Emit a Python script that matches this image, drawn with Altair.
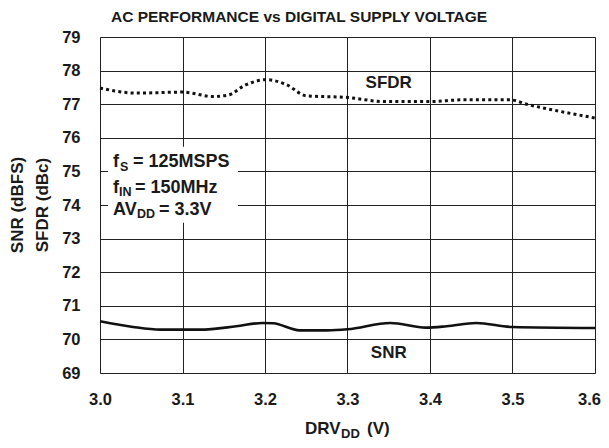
import altair as alt
import pandas as pd

# ---- data ----
sfdr_v = [3.0, 3.045, 3.1, 3.137, 3.155, 3.177, 3.202, 3.226, 3.25, 3.3, 3.344, 3.4, 3.44, 3.497, 3.517, 3.557, 3.6]
sfdr = [77.48, 77.33, 77.36, 77.23, 77.27, 77.58, 77.73, 77.58, 77.25, 77.2, 77.08, 77.08, 77.13, 77.13, 77.0, 76.79, 76.59]

snr_v = [3.0, 3.04, 3.073, 3.121, 3.165, 3.197, 3.21, 3.242, 3.275, 3.3, 3.352, 3.395, 3.42, 3.456, 3.5, 3.6]
snr = [70.54, 70.37, 70.29, 70.29, 70.39, 70.49, 70.48, 70.27, 70.27, 70.3, 70.49, 70.35, 70.39, 70.49, 70.37, 70.34]

x_ticks = [3.0, 3.1, 3.2, 3.3, 3.4, 3.5, 3.6]
y_ticks = [69, 70, 71, 72, 73, 74, 75, 76, 77, 78, 79]

FONT = "Liberation Sans"
W, H = 495, 336
INK = "#1a1a1a"

df_sfdr = pd.DataFrame({"v": sfdr_v, "db": sfdr})
df_snr = pd.DataFrame({"v": snr_v, "db": snr})

xs = alt.Scale(domain=[3.0, 3.6], nice=False, zero=False)
ys = alt.Scale(domain=[69, 79], nice=False, zero=False)

x_axis = alt.Axis(
    values=x_ticks, format=".1f", title=None, grid=True, ticks=False, domain=False,
    labelFont=FONT, labelFontSize=16.5, labelFontWeight="bold", labelColor=INK,
    labelPadding=18, labelBaseline="top", labelFlush=False, labelOverlap=False,
    labelOffset={"expr": "datum.value >= 3.59 ? -6 : 0"},
    gridColor="#222", gridWidth=1)
y_axis = alt.Axis(
    values=y_ticks, format="d", title=None, grid=True, ticks=False, domain=False,
    labelFont=FONT, labelFontSize=16.5, labelFontWeight="bold", labelColor=INK,
    labelPadding=20, labelFlush=False, labelOverlap=False,
    gridColor="#222", gridWidth=1)

sfdr_line = alt.Chart(df_sfdr).mark_line(
    color="#111", strokeWidth=3, strokeDash=[3, 3.2], interpolate="monotone"
).encode(x=alt.X("v:Q", scale=xs, axis=x_axis), y=alt.Y("db:Q", scale=ys, axis=y_axis))

snr_line = alt.Chart(df_snr).mark_line(
    color="#111", strokeWidth=2.6, interpolate="monotone"
).encode(x=alt.X("v:Q", scale=xs, axis=x_axis), y=alt.Y("db:Q", scale=ys, axis=y_axis))

one = pd.DataFrame({"a": [0]})


def xd(v):
    return alt.XDatum(v, type="quantitative", scale=xs, axis=x_axis)


def yd(v):
    return alt.YDatum(v, type="quantitative", scale=ys, axis=y_axis)


# white box behind the condition text
box = alt.Chart(one).mark_rect(fill="white").encode(
    x=xd(3.0097), x2=alt.X2Datum(3.1673),
    y=yd(73.47), y2=alt.Y2Datum(75.73))


def txt(x, y, s, size=18, dx=0, dy=0, align="left", baseline="alphabetic", angle=0):
    return alt.Chart(one).mark_text(
        text=s, font=FONT, fontSize=size, fontWeight="bold", color=INK,
        align=align, baseline=baseline, dx=dx, dy=dy, angle=angle
    ).encode(x=xd(x), y=yd(y))


labels = [
    # chart title
    txt(3.0, 79, "AC PERFORMANCE vs DIGITAL SUPPLY VOLTAGE", size=15.5,
        dx=199, dy=-14.8, align="center"),
    # y-axis title (two rotated lines)
    txt(3.0, 74, "SNR (dBFS)", size=17, dy=-82, align="center",
        baseline="middle", angle=270),
    txt(3.0, 74, "SFDR (dBc)", size=17, dy=-57, align="center",
        baseline="middle", angle=270),
    # conditions
    txt(3.0, 75.13, "f", dx=13),
    txt(3.0, 75.13, "S", size=12.5, dx=20, dy=3.5),
    txt(3.0, 75.13, "= 125MSPS", dx=33),
    txt(3.0, 74.37, "f", dx=13),
    txt(3.0, 74.37, "IN", size=12.5, dx=19, dy=3.5),
    txt(3.0, 74.37, "= 150MHz", dx=35),
    txt(3.0, 73.71, "AV", dx=13),
    txt(3.0, 73.71, "DD", size=12.5, dx=37, dy=3.5),
    txt(3.0, 73.71, "= 3.3V", dx=59),
    # series labels
    txt(3.35, 77.49, "SFDR", size=17, align="center"),
    txt(3.35, 69.45, "SNR", size=17, align="center"),
    # x-axis title with subscript
    txt(3.0, 69, "DRV", size=17, dx=205, dy=61),
    txt(3.0, 69, "DD", size=13, dx=241, dy=65),
    txt(3.0, 69, "(V)", size=17, dx=267, dy=61),
]

chart = alt.layer(sfdr_line, snr_line, box, *labels).properties(
    width=W, height=H,
    autosize=alt.AutoSizeParams(type="none"),
    padding={"left": 92, "top": 29, "right": 6, "bottom": 67},
).configure_view(stroke="#000", strokeWidth=2.4).configure(background="white")

chart.save("out.html", embed_options={"renderer": "svg", "actions": False})
